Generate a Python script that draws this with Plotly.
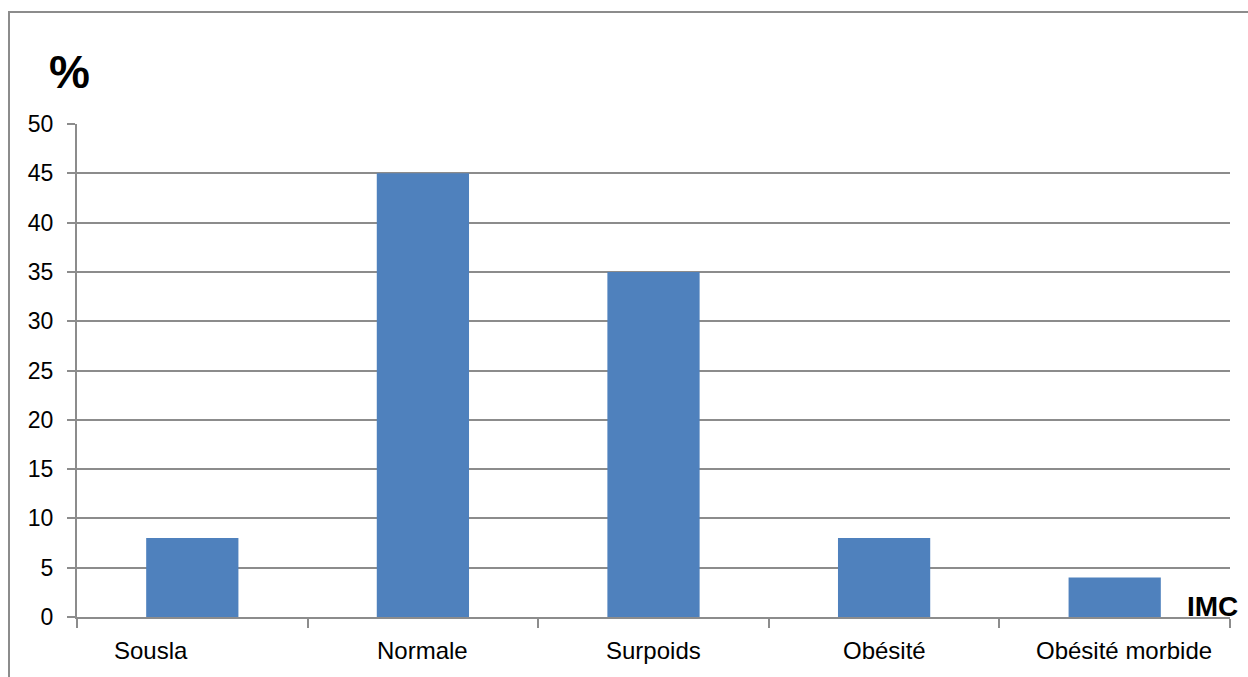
import plotly.graph_objects as go

# BMI category distribution (percent)
categories = ["Sousla", "Normale", "Surpoids", "Obésité", "Obésité morbide"]
percentages = [8, 45, 35, 8, 4]
y_ticks = [0, 5, 10, 15, 20, 25, 30, 35, 40, 45, 50]

# label horizontal nudges in pixels
label_shift = [-41, 0, 0, 0, 9]

BAR = "#4F81BD"
GRID = "#8c8c8c"
FONT = "Liberation Sans, Arial, sans-serif"

W, H = 1248, 677
L, R, T, B = 77, 18, 124, 60
pw, ph = W - L - R, H - T - B

x_idx = list(range(len(categories)))

fig = go.Figure(
    go.Bar(
        x=x_idx,
        y=percentages,
        width=0.4,
        marker=dict(color=BAR, line=dict(width=0)),
        hoverinfo="skip",
    )
)

fig.update_layout(
    width=W,
    height=H,
    margin=dict(l=L, r=R, t=T, b=B),
    paper_bgcolor="white",
    plot_bgcolor="white",
    showlegend=False,
    font=dict(family=FONT, color="black"),
    xaxis=dict(
        range=[-0.5, len(categories) - 0.5],
        tickvals=[i - 0.5 for i in range(len(categories) + 1)],
        ticktext=[""] * (len(categories) + 1),
        ticks="outside",
        ticklen=9,
        tickwidth=2,
        tickcolor=GRID,
        showline=True,
        linecolor=GRID,
        linewidth=2,
        showgrid=False,
        zeroline=False,
        fixedrange=True,
    ),
    yaxis=dict(
        range=[0, 50],
        tickvals=y_ticks,
        ticktext=[str(v) for v in y_ticks],
        ticks="outside",
        ticklen=8,
        tickwidth=2,
        tickcolor=GRID,
        ticklabelstandoff=9,
        tickfont=dict(size=23, family=FONT, color="black"),
        showline=True,
        linecolor=GRID,
        linewidth=2,
        showgrid=True,
        gridcolor=GRID,
        gridwidth=2,
        zeroline=False,
        fixedrange=True,
    ),
)

# category labels under the axis
for i, (name, dx) in enumerate(zip(categories, label_shift)):
    fig.add_annotation(
        x=i, y=0, xref="x", yref="y",
        text=name, showarrow=False,
        xanchor="center", yanchor="middle",
        yshift=-33, xshift=dx,
        font=dict(size=24, family=FONT, color="black"),
    )

# axis titles
fig.add_annotation(
    x=(69 - L) / pw, y=1 + (T - 72) / ph, xref="paper", yref="paper",
    text="<b>%</b>", showarrow=False, xanchor="center", yanchor="middle",
    font=dict(size=46, family=FONT, color="black"),
)
fig.add_annotation(
    x=(1240 - L) / pw, y=1 - (606 - T) / ph, xref="paper", yref="paper",
    text="<b>IMC</b>", showarrow=False, xanchor="right", yanchor="middle",
    font=dict(size=28, family=FONT, color="black"),
)

# outer frame
fig.add_shape(
    type="rect", xref="paper", yref="paper",
    x0=(9 - L) / pw, x1=(W + 20 - L) / pw,
    y0=1 - (H + 20 - T) / ph, y1=1 + (T - 12) / ph,
    line=dict(color=GRID, width=2), fillcolor="rgba(0,0,0,0)",
    layer="below",
)

fig.write_html("out.html")
